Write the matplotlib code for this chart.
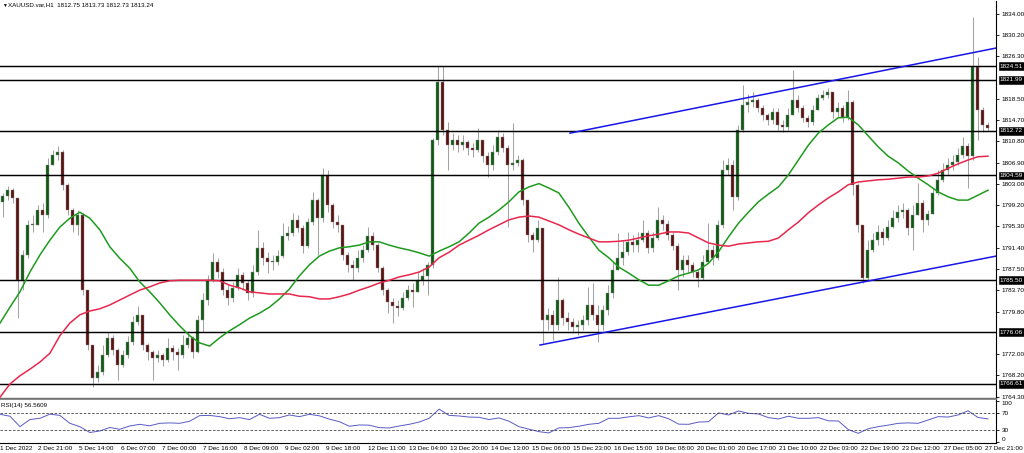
import numpy as np
import matplotlib
matplotlib.use("Agg")
import matplotlib.pyplot as plt
from matplotlib.transforms import blended_transform_factory as blend

plt.rcParams['font.family'] = ['Liberation Sans', 'DejaVu Sans']

# ---------------- data ----------------
symbol = "XAUUSD.var,H1"
header_ohlc = "1812.75 1813.73 1812.73 1813.24"
rsi_title = "RSI(14) 56.5609"

open_first = 1799.8
close = [
    1800.9, 1801.9, 1800.5, 1785.6, 1790.1, 1795.6, 1795.6, 1798.3, 1797.4, 1806.5,
    1808.3, 1808.9, 1802.9, 1798.3, 1795.6, 1797.4, 1783.7, 1773.7, 1767.7, 1768.8,
    1771.9, 1775.0, 1772.8, 1770.1, 1771.9, 1774.3, 1777.9, 1779.2, 1773.7, 1772.4,
    1771.3, 1771.9, 1771.0, 1773.2, 1772.4, 1771.9, 1773.7, 1775.0, 1772.4, 1778.3,
    1781.9, 1785.6, 1788.8, 1787.0, 1783.7, 1782.3, 1784.1, 1786.5, 1785.0, 1783.2,
    1787.0, 1791.4, 1789.6, 1788.8, 1788.8, 1789.9, 1793.6, 1794.1, 1796.5, 1795.0,
    1791.7, 1796.1, 1800.1, 1796.8, 1804.7, 1799.2, 1796.1, 1795.6, 1790.1, 1788.3,
    1787.7, 1789.6, 1791.0, 1793.6, 1791.9, 1787.7, 1783.7, 1781.6, 1780.8, 1780.5,
    1782.3, 1783.7, 1783.4, 1785.6, 1786.3, 1788.3, 1811.1, 1821.6, 1812.9, 1810.1,
    1811.1, 1810.1, 1810.7, 1809.6, 1809.2, 1811.1, 1808.1, 1806.5, 1808.9, 1811.6,
    1809.6, 1806.5, 1806.9, 1807.4, 1800.1, 1793.7, 1792.8, 1795.0, 1778.3, 1779.2,
    1777.4, 1781.9, 1778.6, 1777.9, 1777.0, 1777.4, 1778.3, 1781.0, 1779.2, 1777.4,
    1780.1, 1783.2, 1787.4, 1789.6, 1790.6, 1792.5, 1791.9, 1792.8, 1794.1, 1791.4,
    1793.2, 1796.5, 1795.8, 1793.7, 1791.7, 1787.4, 1789.2, 1788.3, 1787.0, 1785.9,
    1788.8, 1791.0, 1789.6, 1795.6, 1805.6, 1806.5, 1800.7, 1812.9, 1817.4, 1818.0,
    1818.3, 1816.9, 1815.6, 1814.7, 1816.2, 1813.8, 1813.4, 1815.6, 1818.3, 1816.9,
    1815.1, 1814.3, 1816.5, 1818.7, 1819.2, 1819.8, 1816.2, 1816.9, 1815.1, 1818.0,
    1802.9, 1795.6, 1785.9, 1791.0, 1792.8, 1794.3, 1793.2, 1795.2, 1796.8, 1797.9,
    1798.3, 1795.0, 1797.4, 1799.6, 1796.5, 1797.6, 1801.4, 1803.8, 1805.6, 1806.5,
    1807.0, 1808.3, 1810.0, 1808.1, 1824.3, 1816.5, 1813.8, 1813.24]
high = [
    1801.4, 1802.7, 1802.3, 1800.1, 1791.0, 1796.5, 1797.4, 1799.2, 1799.6, 1807.8,
    1809.2, 1810.0, 1809.2, 1803.2, 1798.7, 1798.3, 1797.8, 1783.7, 1773.7, 1770.1,
    1773.7, 1776.1, 1775.5, 1773.2, 1772.8, 1775.4, 1779.0, 1780.8, 1779.2, 1774.1,
    1772.8, 1772.8, 1772.3, 1775.0, 1773.7, 1773.2, 1775.5, 1776.1, 1775.4, 1779.2,
    1783.2, 1786.5, 1790.5, 1789.6, 1787.7, 1784.6, 1785.2, 1787.7, 1787.0, 1785.6,
    1788.3, 1794.7, 1792.5, 1790.6, 1790.1, 1791.0, 1795.9, 1795.4, 1797.8, 1797.4,
    1795.6, 1796.8, 1801.6, 1800.5, 1806.0, 1805.6, 1799.6, 1797.4, 1795.6, 1790.6,
    1789.2, 1791.0, 1791.9, 1795.2, 1794.3, 1792.3, 1788.1, 1784.1, 1782.3, 1781.9,
    1783.4, 1784.6, 1785.0, 1787.0, 1787.7, 1788.8, 1811.4, 1824.5, 1824.5, 1814.3,
    1812.3, 1812.0, 1812.0, 1811.1, 1810.5, 1813.2, 1811.1, 1808.9, 1810.1, 1812.9,
    1812.3, 1810.1, 1814.2, 1808.3, 1807.8, 1800.1, 1794.3, 1796.5, 1795.0, 1780.4,
    1780.1, 1786.1, 1782.3, 1779.7, 1778.6, 1778.3, 1779.2, 1784.3, 1785.0, 1781.0,
    1781.0, 1784.6, 1788.8, 1794.1, 1792.8, 1794.3, 1793.7, 1794.3, 1796.5, 1794.7,
    1794.3, 1798.8, 1797.4, 1796.5, 1794.3, 1792.3, 1790.1, 1790.1, 1788.8, 1787.4,
    1790.1, 1795.9, 1791.9, 1796.5, 1807.4, 1807.8, 1807.4, 1813.8, 1821.1, 1819.4,
    1819.8, 1818.7, 1817.4, 1816.0, 1816.9, 1816.9, 1814.7, 1816.9, 1823.8, 1819.3,
    1817.4, 1815.6, 1817.4, 1819.4, 1820.2, 1820.5, 1819.8, 1818.0, 1817.4, 1820.2,
    1818.3, 1803.2, 1795.6, 1792.8, 1794.1, 1795.6, 1795.0, 1796.5, 1798.3, 1799.2,
    1799.6, 1798.7, 1799.2, 1803.2, 1800.1, 1798.3, 1802.3, 1805.6, 1806.9, 1807.8,
    1808.3, 1809.6, 1811.6, 1810.5, 1833.5, 1826.2, 1817.1, 1814.3]
low = [
    1797.0, 1800.1, 1799.6, 1778.6, 1783.7, 1789.6, 1794.3, 1795.6, 1794.3, 1796.8,
    1806.5, 1807.4, 1801.9, 1797.4, 1794.3, 1793.7, 1782.8, 1772.8, 1766.1, 1767.0,
    1768.2, 1771.5, 1771.9, 1767.3, 1769.7, 1771.3, 1773.7, 1777.4, 1772.8, 1771.0,
    1767.3, 1770.6, 1769.9, 1770.6, 1771.0, 1769.2, 1771.3, 1773.2, 1771.3, 1772.3,
    1776.1, 1781.0, 1785.2, 1785.9, 1782.8, 1781.0, 1781.5, 1783.7, 1783.7, 1781.9,
    1782.5, 1786.5, 1788.3, 1786.8, 1787.4, 1788.3, 1789.6, 1792.8, 1793.6, 1794.3,
    1790.5, 1791.4, 1795.6, 1790.1, 1796.1, 1797.9, 1795.0, 1794.3, 1789.2, 1787.0,
    1785.6, 1787.0, 1788.8, 1790.6, 1791.0, 1787.0, 1782.8, 1779.5, 1777.7, 1779.0,
    1780.1, 1781.9, 1780.6, 1783.4, 1784.6, 1782.8, 1787.7, 1810.1, 1812.0, 1805.6,
    1809.2, 1808.9, 1809.2, 1808.3, 1808.0, 1808.9, 1807.0, 1804.3, 1805.6, 1808.3,
    1808.9, 1795.2, 1805.6, 1806.3, 1799.2, 1792.5, 1790.6, 1792.5, 1774.1, 1776.4,
    1774.6, 1776.4, 1777.4, 1776.4, 1775.9, 1775.5, 1776.4, 1777.4, 1778.3, 1774.3,
    1776.4, 1779.2, 1782.3, 1787.7, 1788.3, 1790.1, 1790.6, 1790.6, 1792.5, 1790.5,
    1790.6, 1792.8, 1794.7, 1792.8, 1791.0, 1783.7, 1786.1, 1787.0, 1786.1, 1784.3,
    1785.6, 1788.8, 1788.3, 1789.2, 1795.0, 1804.7, 1798.3, 1800.1, 1812.5, 1816.2,
    1817.1, 1816.2, 1814.7, 1813.8, 1814.0, 1812.9, 1812.5, 1812.9, 1815.6, 1816.2,
    1814.3, 1813.4, 1813.8, 1816.5, 1818.3, 1818.7, 1815.1, 1815.2, 1814.3, 1814.7,
    1801.0, 1794.3, 1785.0, 1785.6, 1790.6, 1791.9, 1791.9, 1792.8, 1795.0, 1796.1,
    1796.8, 1793.7, 1791.0, 1798.3, 1794.3, 1795.6, 1799.8, 1801.0, 1803.4, 1804.7,
    1805.6, 1806.5, 1807.8, 1802.3, 1807.4, 1811.1, 1812.5, 1812.7]

ma_green = [
    1777.7, 1780.6, 1783.4, 1787.0, 1790.1, 1792.8, 1795.2, 1796.8, 1797.9, 1796.8,
    1794.7, 1791.6, 1789.5, 1787.7, 1785.2, 1783.4, 1781.4, 1779.2, 1777.2, 1775.4,
    1774.1, 1773.5, 1775.0, 1776.3, 1777.4, 1778.6, 1779.5, 1780.6, 1782.1, 1783.9,
    1786.3, 1788.3, 1789.9, 1790.8, 1791.4, 1791.6, 1791.9, 1792.5, 1792.5, 1791.9,
    1791.4, 1791.0, 1790.5, 1789.9, 1790.8, 1791.6, 1792.5, 1794.1, 1795.9, 1797.0,
    1798.3, 1799.8, 1801.6, 1802.5, 1803.1, 1802.3, 1801.4, 1798.8, 1795.9, 1793.4,
    1791.0, 1789.6, 1787.9, 1786.8, 1785.6, 1784.6, 1784.6, 1785.4, 1786.3, 1786.8,
    1787.4, 1788.6, 1790.7, 1793.4, 1795.9, 1797.9, 1799.8, 1801.2, 1802.5, 1804.7,
    1807.4, 1810.1, 1812.3, 1813.8, 1815.1, 1815.2, 1813.8, 1811.8, 1809.8, 1808.1,
    1806.9, 1805.4, 1804.1, 1802.9, 1801.6, 1800.7, 1800.1, 1800.1, 1801.0, 1801.9]
ma_red = [
    1764.2, 1766.6, 1768.1, 1769.3, 1770.6, 1772.2, 1775.4, 1777.7, 1779.2, 1779.9,
    1780.3, 1781.0, 1781.9, 1782.8, 1783.7, 1784.3, 1785.0, 1785.4, 1785.5, 1785.5,
    1785.5, 1785.5, 1785.4, 1784.6, 1784.1, 1783.4, 1783.2, 1783.0, 1783.0, 1783.0,
    1782.6, 1782.5, 1782.1, 1782.1, 1782.5, 1783.0, 1783.7, 1784.3, 1785.0, 1785.5,
    1786.1, 1786.5, 1787.0, 1787.9, 1789.6, 1790.6, 1791.9, 1792.8, 1793.7, 1794.7,
    1795.6, 1796.5, 1797.0, 1797.2, 1797.0, 1796.3, 1795.6, 1794.7, 1793.9, 1793.2,
    1792.5, 1792.5, 1792.6, 1792.8, 1793.2, 1793.6, 1793.9, 1794.3, 1794.3, 1794.1,
    1793.2, 1792.3, 1791.9, 1791.7, 1792.1, 1792.3, 1792.5, 1792.6, 1793.2, 1794.7,
    1796.1, 1797.8, 1799.2, 1800.5, 1801.6, 1802.9, 1803.4, 1803.6, 1803.8, 1803.9,
    1804.1, 1804.3, 1804.3, 1804.5, 1805.0, 1805.9, 1806.7, 1807.4, 1808.0, 1808.1]
rsi = [
    67.6, 63.0, 38.0, 55.0, 58.0, 68.0, 65.0, 46.0, 38.0, 24.0,
    27.6, 36.0, 31.6, 39.6, 43.6, 40.0, 46.0, 47.0, 46.0, 51.0,
    64.4, 65.0, 62.0, 57.0, 59.6, 55.0, 67.6, 58.0, 59.6, 66.0,
    62.0, 67.6, 64.0, 56.0, 50.0, 39.0, 42.0, 41.6, 35.6, 34.8,
    39.6, 43.6, 49.0, 58.0, 80.0, 65.0, 63.6, 61.0, 60.4, 55.0,
    59.0, 51.0, 38.0, 32.0, 26.0, 23.0, 35.0, 35.6, 39.0, 43.6,
    46.0, 58.0, 58.0, 61.5, 64.4, 59.0, 64.4, 57.0, 44.0, 43.6,
    49.0, 50.0, 71.0, 66.0, 75.6, 70.0, 68.4, 59.6, 56.4, 63.0,
    58.0, 58.0, 59.6, 52.0, 51.6, 31.0, 22.0, 33.0, 38.0, 41.6,
    46.0, 47.0, 46.0, 54.0, 62.0, 61.0, 66.0, 76.0, 60.0, 56.6]

levels = [1824.51, 1821.99, 1812.72, 1804.59, 1785.50, 1776.06, 1766.61]
price_ticks = [1834.00, 1830.20, 1826.30, 1818.50, 1814.70, 1810.80, 1806.90,
               1803.00, 1799.20, 1795.30, 1791.40, 1787.50, 1783.70, 1779.80,
               1772.00, 1768.20, 1764.30]
rsi_ticks = [100, 70, 30, 0]
time_labels = ["1 Dec 2022", "2 Dec 21:00", "5 Dec 14:00", "6 Dec 07:00", "7 Dec 00:00",
               "7 Dec 16:00", "8 Dec 09:00", "9 Dec 02:00", "9 Dec 18:00", "12 Dec 11:00",
               "13 Dec 04:00", "13 Dec 20:00", "14 Dec 13:00", "15 Dec 06:00", "15 Dec 23:00",
               "16 Dec 15:00", "19 Dec 08:00", "20 Dec 01:00", "20 Dec 17:00", "21 Dec 10:00",
               "22 Dec 03:00", "22 Dec 19:00", "23 Dec 12:00", "27 Dec 05:00", "27 Dec 21:00"]

# channel lines (bar index, price)
upper_channel_bar = [113.5, 198.7]
upper_channel_price = [1812.3, 1827.8]
lower_channel_bar = [107.5, 198.7]
lower_channel_price = [1773.7, 1789.9]

# ---------------- layout ----------------
W, H = 1024, 453
fig = plt.figure(figsize=(W / 100, H / 100), dpi=100)
fig.patch.set_facecolor('white')


def box(x0, y0, x1, y1):
    return [x0 / W, 1 - y1 / H, (x1 - x0) / W, (y1 - y0) / H]


ax = fig.add_axes(box(0, 1, 996, 398))
axr = fig.add_axes(box(0, 399, 996, 443))

n = len(close)
idx = np.arange(n)
c = np.array(close)
o = np.concatenate([[open_first], c[:-1]])
hi = np.maximum(np.array(high), np.maximum(o, c))
lo = np.minimum(np.array(low), np.minimum(o, c))
up = c >= o
body_bot = np.minimum(o, c)
body_h = np.maximum(np.abs(c - o), 0.12)

ax.vlines(idx, lo, hi, color='#a3a3a3', lw=0.75, zorder=2)
ax.bar(idx[up], body_h[up], bottom=body_bot[up], width=0.5, color='#0f5a12',
       edgecolor='#8c8c8c', linewidth=0.3, zorder=3)
ax.bar(idx[~up], body_h[~up], bottom=body_bot[~up], width=0.5, color='#5a1212',
       edgecolor='#8c8c8c', linewidth=0.3, zorder=3)

for lv in levels:
    ax.axhline(lv, color='black', lw=1.05, zorder=3.5)

ma_x = np.linspace(-0.5, 197.1, len(ma_green))
ax.plot(ma_x, ma_green, color='#1f9a1f', lw=1.1, zorder=4)
ax.plot(ma_x, ma_red, color='#e8274d', lw=1.1, zorder=4)

ax.plot(upper_channel_bar, upper_channel_price, color='#1616e8', lw=1.1, zorder=4.5)
ax.plot(lower_channel_bar, lower_channel_price, color='#1616e8', lw=1.1, zorder=4.5)

ax.set_xlim(-0.5, 198.7)
ax.set_ylim(1764.05, 1836.37)
ax.set_xticks([])
ax.yaxis.tick_right()
ax.set_yticks(price_ticks)
ax.set_yticklabels([f'{v:.2f}' for v in price_ticks])
ax.tick_params(axis='y', length=2.5, width=0.6, pad=1.5, labelsize=4.6, colors='black')
for s in ['left', 'top']:
    ax.spines[s].set_visible(False)
ax.spines['right'].set_linewidth(0.8)
ax.spines['bottom'].set_linewidth(0.9)

tr = blend(ax.transAxes, ax.transData)
for lv in levels:
    ax.text(1.004, lv, f'{lv:.2f}', transform=tr, ha='left', va='center', fontsize=4.6,
            color='white', zorder=10, clip_on=False,
            bbox=dict(boxstyle='square,pad=0.22', fc='black', ec='black', lw=0.4))

# RSI panel
axr.plot(ma_x, rsi, color='#5a5ac4', lw=0.7)
axr.axhline(70, color='#444444', lw=0.6, ls=(0, (3, 2)))
axr.axhline(30, color='#444444', lw=0.6, ls=(0, (3, 2)))
axr.set_xlim(-0.5, 198.7)
axr.set_ylim(-1.2, 104.3)
axr.set_xticks([])
axr.yaxis.tick_right()
axr.set_yticks(rsi_ticks)
axr.set_yticklabels([str(v) for v in rsi_ticks])
axr.tick_params(axis='y', length=2.5, width=0.6, pad=1.5, labelsize=4.6, colors='black')
labs = axr.get_yticklabels()
labs[0].set_va('top')
labs[-1].set_va('bottom')
axr.spines['left'].set_visible(False)
axr.spines['top'].set_color('#808080')
axr.spines['top'].set_linewidth(1.3)
axr.spines['right'].set_linewidth(0.8)
axr.spines['bottom'].set_linewidth(0.8)

trx = blend(axr.transData, axr.transAxes)
for k, lab in enumerate(time_labels):
    xpos = -1.07 + 8.23 * k if k > 0 else -0.45
    axr.text(xpos, -0.115, lab, transform=trx, ha='left', va='center', fontsize=4.6,
             clip_on=False)

fig.text(2 / W, 1 - 5 / H, '\u25bc', fontsize=3.5, va='center', ha='left')
fig.text(8 / W, 1 - 5 / H, f'{symbol}  {header_ohlc}', fontsize=4.5, va='center', ha='left')
fig.text(1 / W, 1 - 405.5 / H, rsi_title, fontsize=4.5, va='center', ha='left')

fig.savefig('out.png', dpi=100)
